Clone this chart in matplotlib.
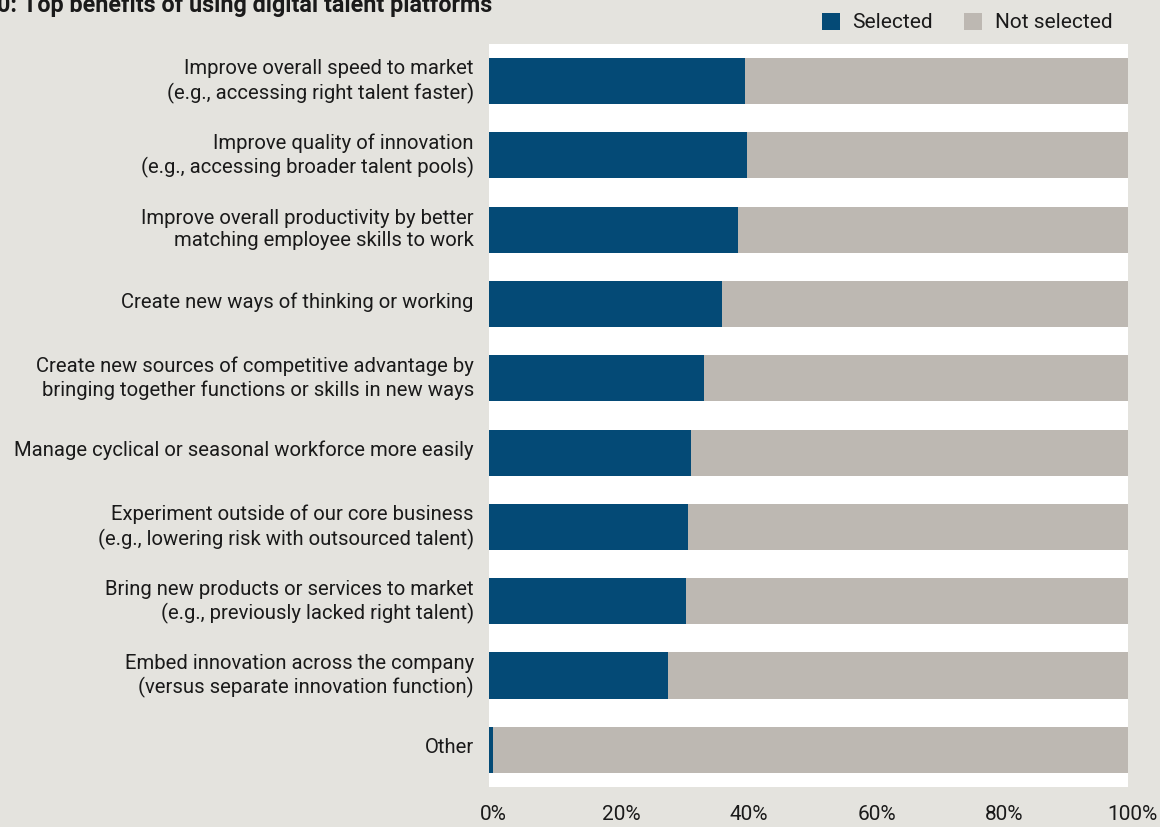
import numpy as np
import matplotlib.pyplot as plt
from matplotlib.patches import Patch
import matplotlib.transforms as mtransforms

plt.rcParams['font.family'] = ['Roboto', 'DejaVu Sans']

# data (percent of respondents)
benefits = [
    "Improve overall speed to market\n(e.g., accessing right talent faster)",
    "Improve quality of innovation\n(e.g., accessing broader talent pools)",
    "Improve overall productivity by better\nmatching employee skills to work",
    "Create new ways of thinking or working",
    "Create new sources of competitive advantage by\nbringing together functions or skills in new ways",
    "Manage cyclical or seasonal workforce more easily",
    "Experiment outside of our core business\n(e.g., lowering risk with outsourced talent)",
    "Bring new products or services to market\n(e.g., previously lacked right talent)",
    "Embed innovation across the company\n(versus separate innovation function)",
    "Other",
]
selected = [40.1, 40.4, 39.0, 36.5, 33.6, 31.6, 31.1, 30.8, 28.0, 0.6]
not_selected = [100 - s for s in selected]
xticks = [0, 20, 40, 60, 80, 100]

bg = '#e4e3de'
blue = '#044a76'
grey = '#bdb8b2'
txt = '#1a1a1a'

fig = plt.figure(figsize=(11.6, 8.27), dpi=100, facecolor=bg)
ax = fig.add_axes([0.4216, 0.0484, 0.5509, 0.8984])
ax.set_facecolor('white')

y = np.arange(len(benefits))
ax.barh(y, selected, height=0.62, color=blue)
ax.barh(y, not_selected, left=selected, height=0.62, color=grey)

ax.set_xlim(0, 100)
ax.set_ylim(len(benefits) - 0.5, -0.5)
ax.set_yticks(y)
ax.set_yticklabels(benefits, fontsize=14.6, color=txt, linespacing=1.25)
ax.set_xticks(xticks)
ax.set_xticklabels([f"{t}%" for t in xticks], fontsize=15, color=txt)
ax.tick_params(axis='y', length=0, pad=11)
ax.tick_params(axis='x', length=0, pad=13)
# nudge labels a few pixels to sit like the original
xoff = mtransforms.ScaledTranslation(4 / 100, 0, fig.dpi_scale_trans)
for lab in ax.get_xticklabels():
    lab.set_transform(lab.get_transform() + xoff)
yoff = mtransforms.ScaledTranslation(0, 4 / 100, fig.dpi_scale_trans)
for lab in ax.get_yticklabels():
    lab.set_transform(lab.get_transform() + yoff)
for s in ax.spines.values():
    s.set_visible(False)

fig.text(-0.003, 0.993, "0: Top benefits of using digital talent platforms",
         fontsize=16.8, fontweight='bold', color=txt, va='center', ha='left')

handles = [Patch(facecolor=blue, label='Selected'),
           Patch(facecolor=grey, label='Not selected')]
fig.legend(handles=handles, loc='upper right', bbox_to_anchor=(0.975, 1.007),
           ncol=2, frameon=False, fontsize=15, handlelength=0.85, handleheight=0.85,
           handletextpad=0.6, columnspacing=1.5, labelcolor=txt)

fig.savefig('out.png', dpi=100, facecolor=bg)
